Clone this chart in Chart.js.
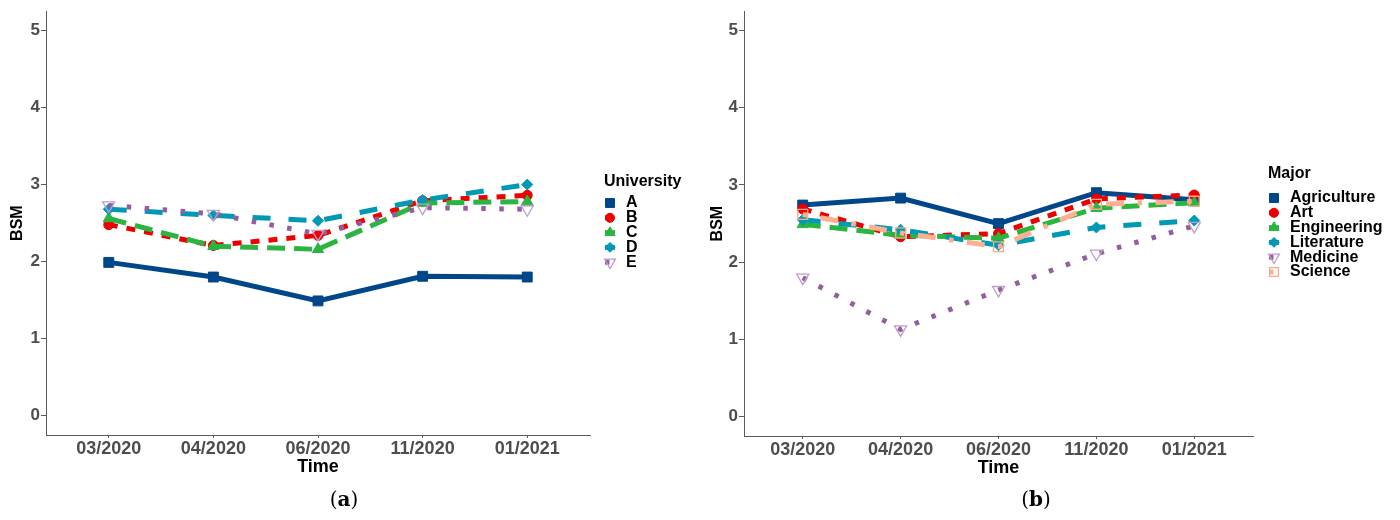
<!DOCTYPE html>
<html>
<head>
<meta charset="utf-8">
<script src="https://cdn.jsdelivr.net/npm/chart.js@4/dist/chart.umd.min.js"></script>
<style>
  body { margin: 0; background: #fff; }
  #wrap { position: relative; width: 1400px; height: 520px; }
  canvas { position: absolute; top: 0; }
  .cap { position: absolute; top: 487px; font-family: "DejaVu Serif", "Liberation Serif", serif; font-size: 20px; color: #000; transform: translateX(-50%); }
</style>
</head>
<body>
<div id="wrap">
  <canvas id="chartA" width="700" height="520" style="left:0"></canvas>
  <canvas id="chartB" width="700" height="520" style="left:700px"></canvas>
  <div class="cap" style="left:344px">(<b>a</b>)</div>
  <div class="cap" style="left:1036px">(<b>b</b>)</div>
</div>
<script>
// Time points and BSM values
const timeLabels = ['03/2020', '04/2020', '06/2020', '11/2020', '01/2021'];
const yTicks = [0, 1, 2, 3, 4, 5];

// (a) by university
const uniNames = ['A', 'B', 'C', 'D', 'E'];
const uniA = [1.99, 1.80, 1.49, 1.81, 1.80];
const uniB = [2.48, 2.21, 2.34, 2.79, 2.86];
const uniC = [2.56, 2.20, 2.16, 2.76, 2.78];
const uniD = [2.68, 2.60, 2.53, 2.80, 3.00];
const uniE = [2.73, 2.62, 2.36, 2.70, 2.68];

// (b) by major
const majorNames = ['Agriculture', 'Art', 'Engineering', 'Literature', 'Medicine', 'Science'];
const majAgri = [2.74, 2.83, 2.50, 2.90, 2.81];
const majArt = [2.69, 2.33, 2.37, 2.82, 2.87];
const majEng = [2.49, 2.35, 2.31, 2.70, 2.77];
const majLit = [2.55, 2.42, 2.22, 2.45, 2.54];
const majMed = [1.80, 1.13, 1.64, 2.11, 2.47];
const majSci = [2.62, 2.38, 2.20, 2.75, 2.79];

const FONT = '"Liberation Sans", Arial, sans-serif';
const AXIS = '#5a5a5a';
const U = 4.5; // dash unit

// colour, dash, marker for each group position
const styles = [
    { color: '#00468B', dash: [], point: 'rect', r: 7, open: false },
    { color: '#ED0000', dash: [2 * U, 2 * U], point: 'circle', r: 5, open: false },
    { color: '#2BB540', dash: [4 * U, 2 * U], point: 'triangle', r: 6.5, open: false },
    { color: '#0099B4', dash: [4 * U, 4 * U], point: 'rectRot', r: 5.5, open: false },
    { color: '#925E9F', dash: [U, 3 * U], point: 'triangle', r: 7, open: true, rot: 180, edge: '#c09ccb' },
    { color: '#FDAF91', dash: [U, 3 * U, 4 * U, 3 * U], point: 'rect', r: 7, open: true, edge: '#f7a98c' }
];

function makeSets(names, series) {
    return names.map(function(name, i) {
        const s = styles[i];
        return {
            label: name,
            data: series[i].map(function(v, k) { return { x: k, y: v }; }),
            borderColor: s.color,
            borderWidth: 5,
            borderDash: s.dash,
            borderCapStyle: 'butt',
            tension: 0,
            pointStyle: s.point,
            pointRotation: s.rot || 0,
            pointRadius: s.r,
            pointBackgroundColor: s.open ? 'rgba(0,0,0,0)' : s.color,
            pointBorderColor: s.open ? s.edge : s.color,
            pointBorderWidth: s.open ? 1.3 : 1,
            order: names.length - i
        };
    });
}

// legend drawn beside the plot, ggplot style
const sideLegend = {
    id: 'sideLegend',
    afterDraw(chart, args, opts) {
        const ctx = chart.ctx;
        const x0 = chart.chartArea.right + opts.gap;
        ctx.save();
        ctx.textBaseline = 'middle';
        ctx.textAlign = 'left';
        ctx.fillStyle = '#000';
        ctx.font = 'bold 16px ' + FONT;
        ctx.fillText(opts.title, x0 - 6, opts.titleY);
        chart.data.datasets.forEach(function(ds, i) {
            const y = opts.firstY + i * opts.step;
            ctx.save();
            ctx.strokeStyle = ds.borderColor;
            ctx.lineWidth = ds.borderWidth;
            ctx.lineCap = 'butt';
            ctx.setLineDash(ds.borderDash);
            ctx.beginPath();
            ctx.moveTo(x0 - 5, y);
            ctx.lineTo(x0 + 5, y);
            ctx.stroke();
            ctx.restore();
            ctx.save();
            ctx.fillStyle = ds.pointBackgroundColor;
            ctx.strokeStyle = ds.pointBorderColor;
            ctx.lineWidth = ds.pointBorderWidth;
            Chart.helpers.drawPoint(ctx, {
                pointStyle: ds.pointStyle,
                rotation: ds.pointRotation,
                radius: ds.pointRadius * 0.9,
                borderWidth: ds.pointBorderWidth
            }, x0, y);
            ctx.restore();
            ctx.fillStyle = '#000';
            ctx.font = 'bold 16px ' + FONT;
            ctx.fillText(ds.label, x0 + 16, y);
        });
        ctx.restore();
    }
};

function makeOptions(yWidth, pad, legend) {
    return {
        responsive: false,
        animation: false,
        layout: { padding: pad },
        plugins: {
            legend: { display: false },
            tooltip: { enabled: false },
            sideLegend: legend
        },
        scales: {
            x: {
                type: 'linear',
                min: -0.6,
                max: 4.6,
                afterFit: function(s) { s.height = 42; },
                afterBuildTicks: function(s) {
                    s.ticks = timeLabels.map(function(t, k) { return { value: k }; });
                },
                ticks: {
                    autoSkip: false,
                    maxRotation: 0,
                    padding: 0,
                    color: '#4d4d4d',
                    font: { family: FONT, size: 18, weight: 'bold' },
                    callback: function(v) { return timeLabels[v]; }
                },
                grid: { drawOnChartArea: false, drawTicks: true, tickLength: 3, color: AXIS },
                border: { display: true, color: AXIS, width: 1 },
                title: {
                    display: true,
                    text: 'Time',
                    color: '#000',
                    padding: { top: 0, bottom: -1 },
                    font: { family: FONT, size: 18, weight: 'bold' }
                }
            },
            y: {
                min: -0.25,
                max: 5.25,
                afterFit: function(s) { s.width = yWidth; },
                afterBuildTicks: function(s) {
                    s.ticks = yTicks.map(function(v) { return { value: v }; });
                },
                ticks: {
                    padding: 1,
                    color: '#4d4d4d',
                    font: { family: FONT, size: 17, weight: 'bold' }
                },
                grid: { drawOnChartArea: false, drawTicks: true, tickLength: 5, color: AXIS },
                border: { display: true, color: AXIS, width: 1 },
                title: {
                    display: true,
                    text: 'BSM',
                    color: '#000',
                    padding: { top: 8, bottom: 0 },
                    font: { family: FONT, size: 16, weight: 'bold' }
                }
            }
        }
    };
}

new Chart(document.getElementById('chartA'), {
    type: 'line',
    data: { datasets: makeSets(uniNames, [uniA, uniB, uniC, uniD, uniE]) },
    options: makeOptions(46, { top: 8, right: 110, bottom: 43, left: 0 },
        { title: 'University', gap: 20, titleY: 182, firstY: 203, step: 14.8 }),
    plugins: [sideLegend]
});

new Chart(document.getElementById('chartB'), {
    type: 'line',
    data: { datasets: makeSets(majorNames, [majAgri, majArt, majEng, majLit, majMed, majSci]) },
    options: makeOptions(44, { top: 8, right: 147, bottom: 42, left: 0 },
        { title: 'Major', gap: 21, titleY: 174, firstY: 198, step: 14.8 }),
    plugins: [sideLegend]
});
</script>
</body>
</html>
